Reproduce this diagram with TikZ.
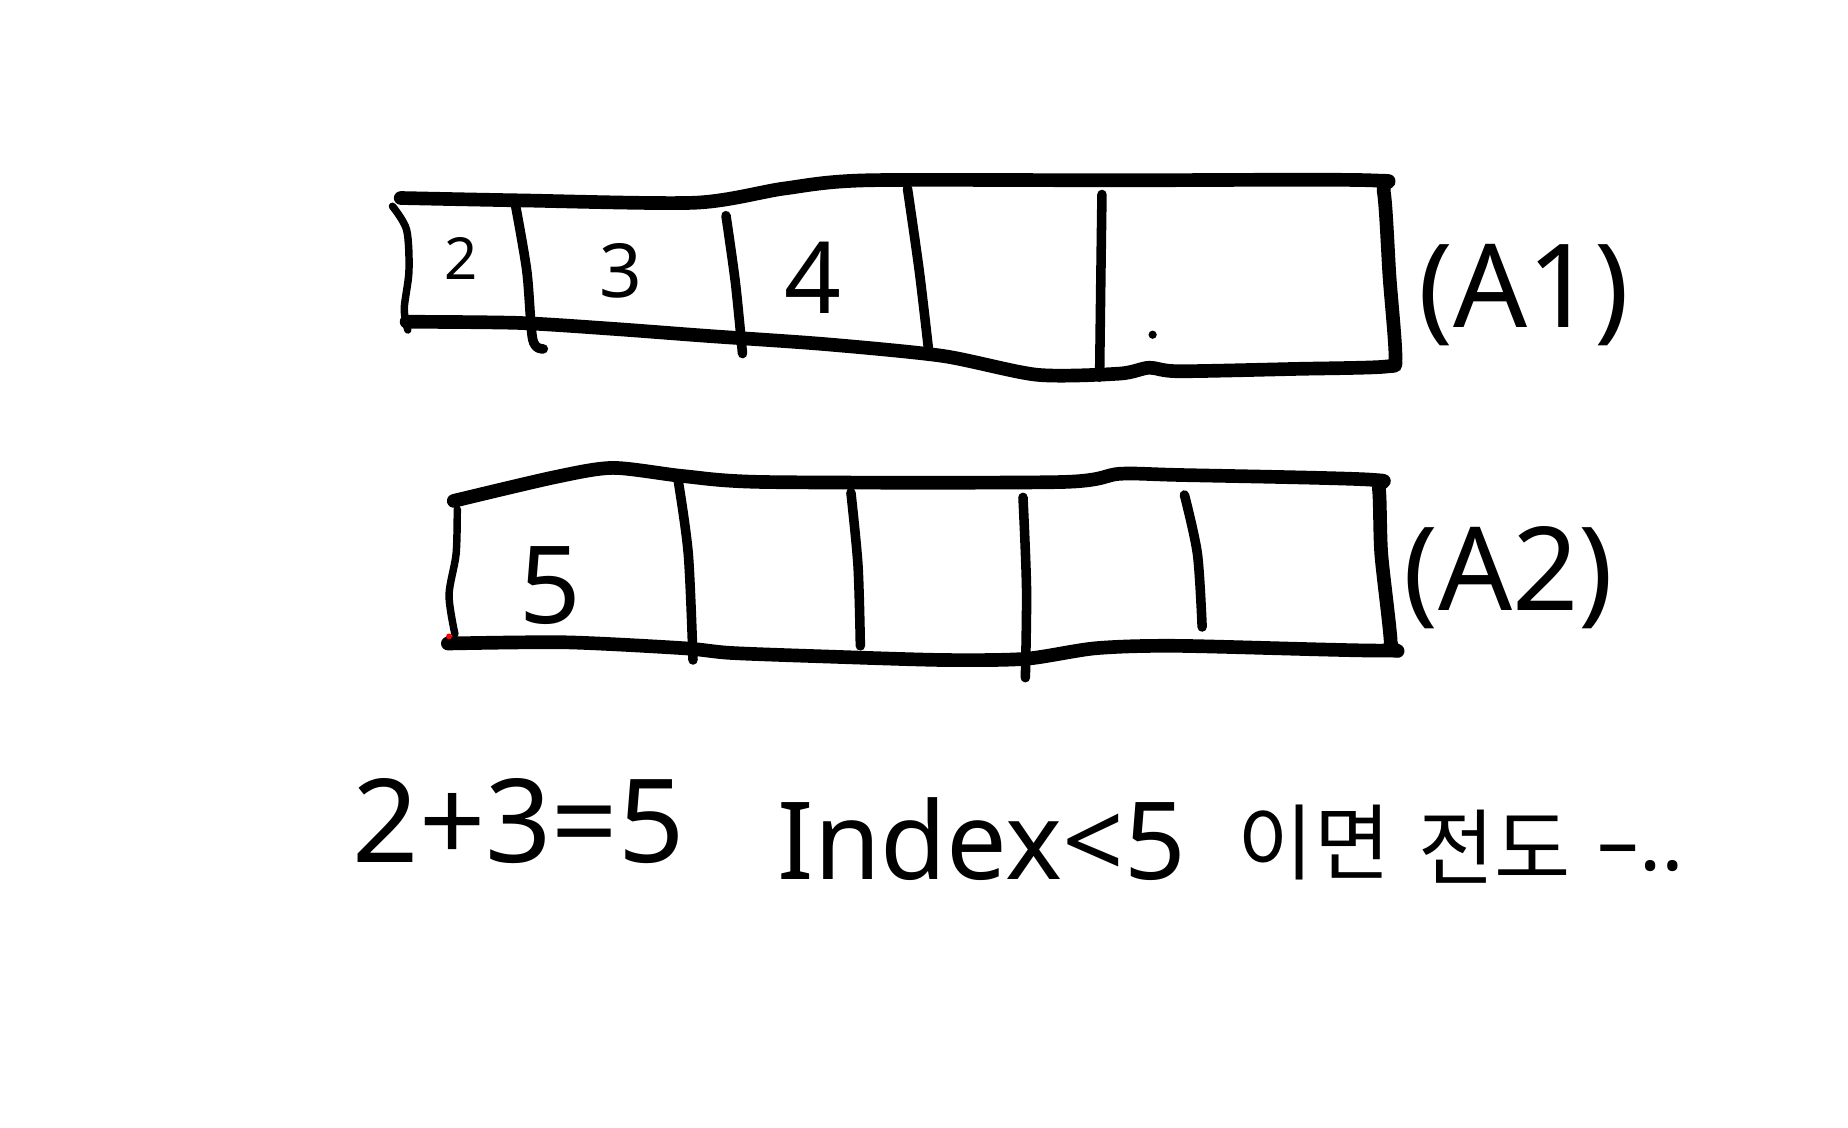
\documentclass[tikz,border=0pt]{standalone}
\usepackage{fontspec}
\setmainfont{Noto Sans}
\newfontfamily\krfont{Noto Sans CJK KR}
\begin{document}
\begin{tikzpicture}[x=0.01cm,y=-0.01cm,
  outline/.style={line width=3.3pt, line cap=round, line join=round},
  divider/.style={line width=2.3pt, line cap=round, line join=round},
  sideedge/.style={line width=1.8pt, line cap=round, line join=round},
  tag/.style={font=\fontsize{28}{30}\selectfont, inner sep=0pt},
  note/.style={font=\fontsize{28}{30}\selectfont, inner sep=0pt},
  krnote/.style={font=\krfont\fontsize{20}{22}\selectfont, inner sep=0pt}]
\useasboundingbox[fill=white] (0,0) rectangle (1568,957);

% ---------- array A1 ----------
\draw[outline] plot[smooth,tension=0.45] coordinates {
  (340,168) (440,170) (590,172) (665,160) (735,153) (950,153) (1163,153)
  (1174,162) (1179,235) (1184,303) (1176,311) (1100,313) (1000,315)
  (975,312) (950,317) (880,318) (800,302) (700,292) (600,285) (520,279)
  (440,274) (345,273)};
\draw[sideedge] plot[smooth,tension=0.5] coordinates {(333,175) (345,195) (347,230) (343,262) (346,280)};
\draw[divider] plot[smooth,tension=0.5] coordinates {(437,172) (447,230) (452,288) (461,296)};
\draw[divider] plot[smooth,tension=0.5] coordinates {(616,183) (624,240) (630,300)};
\draw[divider] plot[smooth,tension=0.5] coordinates {(770,160) (780,230) (788,298)};
\draw[divider] plot[smooth,tension=0.5] coordinates {(935,165) (934,240) (933,320)};
\fill (978,284) circle (3.5);

\node[font=\fontsize{14}{16}\selectfont\bfseries] (c2) at (391,219) {2};
\node[font=\fontsize{18}{20}\selectfont] (c3) at (527,230) {3};
\node[font=\fontsize{24}{26}\selectfont] (c4) at (690,236) {4};
\node[tag] (a1) at (1293,250) {(A1)};

% ---------- array A2 ----------
\draw[outline] plot[smooth,tension=0.45] coordinates {
  (385,425) (470,405) (520,397) (580,404) (650,409) (900,409) (950,402)
  (1000,403) (1163,407) (1170,415) (1172,470) (1180,545) (1174,552)
  (1000,548) (930,550) (870,559) (800,560) (700,557) (620,554) (580,550)
  (480,545) (380,546)};
\draw[sideedge] plot[smooth,tension=0.5] coordinates {(388,432) (387,470) (381,505) (386,538)};
\fill[red] (381,540) circle (2.5);
\draw[divider] plot[smooth,tension=0.5] coordinates {(575,405) (584,470) (588,560)};
\draw[divider] plot[smooth,tension=0.5] coordinates {(722,418) (728,480) (730,548)};
\draw[divider] plot[smooth,tension=0.5] coordinates {(868,422) (871,500) (870,575)};
\draw[divider] plot[smooth,tension=0.5] coordinates {(1005,420) (1016,470) (1020,532)};

\node[font=\fontsize{26}{28}\selectfont] (c5) at (467,497) {5};
\node[tag] (a2) at (1280,490) {(A2)};

% ---------- note ----------
\node[note] (sum) at (440,697) {2+3=5};
\node[font=\fontsize{26}{28}\selectfont, inner sep=0pt] (idx) at (833,712) {Index<5};
\node[krnote] (ifk) at (1115,715) {이면};
\node[krnote] (res) at (1268,718) {전도};
\node[font=\fontsize{20}{22}\selectfont, inner sep=0pt] (dots) at (1392,728) {–‥};
\end{tikzpicture}
\end{document}
